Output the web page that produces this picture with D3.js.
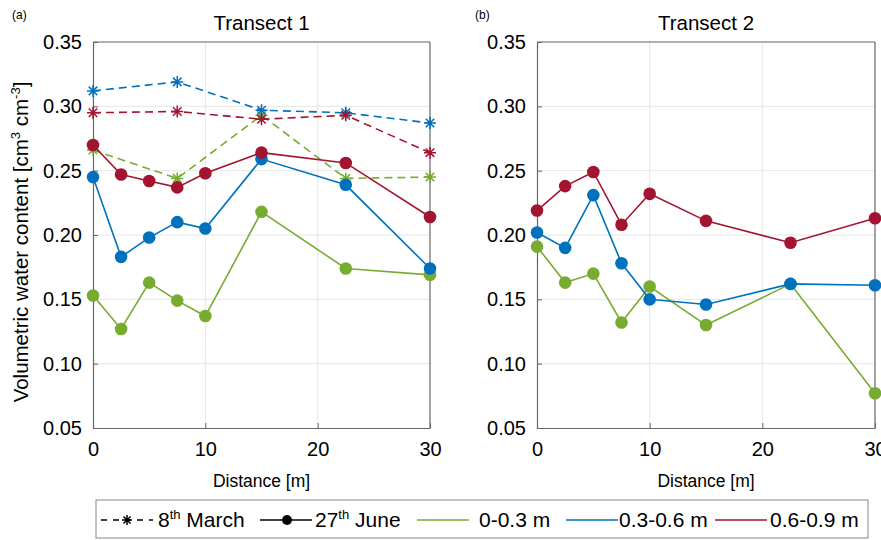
<!DOCTYPE html>
<html>
<head>
<meta charset="utf-8">
<script src="https://cdn.jsdelivr.net/npm/d3@7"></script>
<style>
  body { margin: 0; background: #fff; }
  text { font-family: "Liberation Sans", Arial, sans-serif; fill: #000; }
</style>
</head>
<body>
<svg width="881" height="540"></svg>
<script>
// distances along each transect [m]
const juneX = [0, 2.5, 5, 7.5, 10, 15, 22.5, 30];
const marchX = [0, 7.5, 15, 22.5, 30];

// Transect 1, 8th March
const t1MarchShallow = [0.266, 0.244, 0.293, 0.244, 0.245];
const t1MarchMid = [0.312, 0.319, 0.297, 0.295, 0.287];
const t1MarchDeep = [0.295, 0.296, 0.290, 0.293, 0.264];
// Transect 1, 27th June
const t1JuneShallow = [0.153, 0.127, 0.163, 0.149, 0.137, 0.218, 0.174, 0.169];
const t1JuneMid = [0.245, 0.183, 0.198, 0.210, 0.205, 0.259, 0.239, 0.174];
const t1JuneDeep = [0.270, 0.247, 0.242, 0.237, 0.248, 0.264, 0.256, 0.214];
// Transect 2, 27th June
const t2JuneShallow = [0.191, 0.163, 0.170, 0.132, 0.160, 0.130, 0.162, 0.077];
const t2JuneMid = [0.202, 0.190, 0.231, 0.178, 0.150, 0.146, 0.162, 0.161];
const t2JuneDeep = [0.219, 0.238, 0.249, 0.208, 0.232, 0.211, 0.194, 0.213];

const xTicks = [0, 10, 20, 30];
const yTicks = [0.05, 0.10, 0.15, 0.20, 0.25, 0.30, 0.35];

const green = "#77ac30", blue = "#0072bd", red = "#a2142f";

const svg = d3.select("svg");

function pairs(xs, ys) {
    return xs.map(function(x, i) { return [x, ys[i]]; });
}

function starPath(r) {
    const d = r * 0.7071;
    return "M" + (-r) + ",0L" + r + ",0M0," + (-r) + "L0," + r +
        "M" + (-d) + "," + (-d) + "L" + d + "," + d +
        "M" + (-d) + "," + d + "L" + d + "," + (-d);
}

function drawPanel(opts) {
    const x = d3.scaleLinear().domain([0, 30]).range([opts.left, opts.right]);
    const y = d3.scaleLinear().domain([0.05, 0.35]).range([428, 42]);
    const g = svg.append("g");

    // grid
    g.append("g").selectAll("line").data(xTicks.slice(1, -1)).enter()
        .append("line")
        .attr("x1", d => x(d)).attr("x2", d => x(d))
        .attr("y1", 42).attr("y2", 428)
        .attr("stroke", "#e6e6e6").attr("stroke-width", 1);
    g.append("g").selectAll("line").data(yTicks.slice(1, -1)).enter()
        .append("line")
        .attr("x1", opts.left).attr("x2", opts.right)
        .attr("y1", d => y(d)).attr("y2", d => y(d))
        .attr("stroke", "#e6e6e6").attr("stroke-width", 1);

    // axes
    const yAxis = g.append("g")
        .attr("transform", "translate(" + opts.left + ",0)")
        .call(d3.axisLeft(y).tickValues(yTicks).tickFormat(d3.format(".2f"))
            .tickSizeInner(-5).tickSizeOuter(0).tickPadding(11));
    const xAxis = g.append("g")
        .attr("transform", "translate(0,428)")
        .call(d3.axisBottom(x).tickValues(xTicks)
            .tickSizeInner(-5).tickSizeOuter(0).tickPadding(14));
    [xAxis, yAxis].forEach(function(a) {
        a.select(".domain").attr("stroke", "#666").attr("stroke-width", 1.2);
        a.selectAll(".tick line").attr("stroke", "#666");
        a.selectAll(".tick text").attr("font-size", "20px")
            .attr("font-family", "Liberation Sans, Arial, sans-serif").attr("fill", "#000");
    });
    // box top and right
    g.append("line").attr("x1", opts.left).attr("x2", opts.right)
        .attr("y1", 42).attr("y2", 42).attr("stroke", "#666").attr("stroke-width", 1.2);
    g.append("line").attr("x1", opts.right).attr("x2", opts.right)
        .attr("y1", 42).attr("y2", 428).attr("stroke", "#666").attr("stroke-width", 1.2);

    const line = d3.line().x(d => x(d[0])).y(d => y(d[1]));

    // March (dashed, stars)
    opts.march.forEach(function(s) {
        const pts = pairs(marchX, s.values);
        g.append("path").datum(pts)
            .attr("d", line).attr("fill", "none")
            .attr("stroke", s.color).attr("stroke-width", 1.6)
            .attr("stroke-dasharray", "8,5");
        g.append("g").selectAll("path").data(pts).enter()
            .append("path")
            .attr("transform", d => "translate(" + x(d[0]) + "," + y(d[1]) + ")")
            .attr("d", starPath(6))
            .attr("stroke", s.color).attr("stroke-width", 1.5);
    });

    // June (solid, dots)
    opts.june.forEach(function(s) {
        const pts = pairs(juneX, s.values);
        g.append("path").datum(pts)
            .attr("d", line).attr("fill", "none")
            .attr("stroke", s.color).attr("stroke-width", 1.6);
        g.append("g").selectAll("circle").data(pts).enter()
            .append("circle")
            .attr("cx", d => x(d[0])).attr("cy", d => y(d[1]))
            .attr("r", 6.3).attr("fill", s.color);
    });

    // title, panel label, x label
    svg.append("text")
        .attr("x", (opts.left + opts.right) / 2).attr("y", 30)
        .attr("text-anchor", "middle").attr("font-size", "20.5px")
        .text(opts.title);
    svg.append("text")
        .attr("x", opts.tagX).attr("y", 19)
        .attr("font-size", "12px")
        .text(opts.tag);
    svg.append("text")
        .attr("x", (opts.left + opts.right) / 2).attr("y", 487)
        .attr("text-anchor", "middle").attr("font-size", "17.5px")
        .text("Distance [m]");
}

drawPanel({
    left: 93, right: 430, title: "Transect 1", tag: "(a)", tagX: 12,
    march: [
        { values: t1MarchShallow, color: green },
        { values: t1MarchMid, color: blue },
        { values: t1MarchDeep, color: red }
    ],
    june: [
        { values: t1JuneShallow, color: green },
        { values: t1JuneMid, color: blue },
        { values: t1JuneDeep, color: red }
    ]
});

drawPanel({
    left: 537, right: 875, title: "Transect 2", tag: "(b)", tagX: 475,
    march: [],
    june: [
        { values: t2JuneShallow, color: green },
        { values: t2JuneMid, color: blue },
        { values: t2JuneDeep, color: red }
    ]
});

// y axis label
const yl = svg.append("text")
    .attr("transform", "translate(28,242) rotate(-90)")
    .attr("text-anchor", "middle").attr("font-size", "20.5px");
yl.append("tspan").text("Volumetric water content [cm");
yl.append("tspan").attr("font-size", "13px").attr("dy", -8).text("3");
yl.append("tspan").attr("dy", 8).text(" cm");
yl.append("tspan").attr("font-size", "13px").attr("dy", -8).text("-3");
yl.append("tspan").attr("dy", 8).text("]");

// legend
const lg = svg.append("g");
lg.append("rect").attr("x", 96).attr("y", 500).attr("width", 772).attr("height", 38)
    .attr("fill", "#fff").attr("stroke", "#888").attr("stroke-width", 1);

const ly = 520;
lg.append("line").attr("x1", 101).attr("x2", 153).attr("y1", ly).attr("y2", ly)
    .attr("stroke", "#000").attr("stroke-width", 1.5).attr("stroke-dasharray", "6,6");
lg.append("path").attr("transform", "translate(127," + ly + ")")
    .attr("d", starPath(5)).attr("stroke", "#000").attr("stroke-width", 1.5);
const t1 = lg.append("text").attr("x", 158).attr("y", ly + 7).attr("font-size", "21px");
t1.append("tspan").text("8");
t1.append("tspan").attr("font-size", "13px").attr("dy", -8).text("th");
t1.append("tspan").attr("dy", 8).text(" March");

lg.append("line").attr("x1", 260).attr("x2", 312).attr("y1", ly).attr("y2", ly)
    .attr("stroke", "#000").attr("stroke-width", 1.5);
lg.append("circle").attr("cx", 287).attr("cy", ly).attr("r", 5).attr("fill", "#000");
const t2 = lg.append("text").attr("x", 315).attr("y", ly + 7).attr("font-size", "21px");
t2.append("tspan").text("27");
t2.append("tspan").attr("font-size", "13px").attr("dy", -8).text("th");
t2.append("tspan").attr("dy", 8).text(" June");

const depthItems = [
    { label: "0-0.3 m", color: green, x1: 417, tx: 479 },
    { label: "0.3-0.6 m", color: blue, x1: 566, tx: 619 },
    { label: "0.6-0.9 m", color: red, x1: 715, tx: 770 }
];
depthItems.forEach(function(d) {
    lg.append("line").attr("x1", d.x1).attr("x2", d.x1 + 52).attr("y1", ly).attr("y2", ly)
        .attr("stroke", d.color).attr("stroke-width", 1.5);
    lg.append("text").attr("x", d.tx).attr("y", ly + 7).attr("font-size", "21px").text(d.label);
});
</script>
</body>
</html>
